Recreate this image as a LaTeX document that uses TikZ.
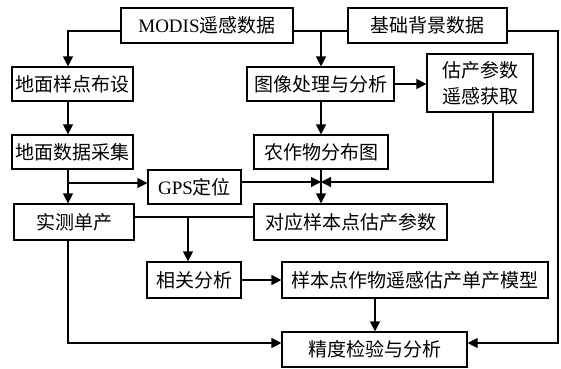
\documentclass[tikz,border=0pt]{standalone}
\usepackage{fontspec}
\setmainfont{Liberation Serif}
\newfontfamily\cjk{Noto Sans CJK SC}
\usetikzlibrary{arrows.meta}
\begin{document}
\begin{tikzpicture}[x=1pt,y=-1pt,
  box/.style={draw,line width=1.2pt,inner sep=0pt,align=center,
    font=\fontsize{19}{24}\selectfont},
  ln/.style={line width=1.2pt},
  arr/.style={line width=1.2pt,-{Triangle[length=10pt,width=10pt]}}]
\useasboundingbox (0,0) rectangle (561,368);
\node[box,minimum width=172pt,minimum height=35pt] (modis) at (207,25.5) {MODIS{\cjk 遥感数据}};
\node[box,minimum width=159pt,minimum height=35pt] (jichu) at (427.5,25.5) {\cjk 基础背景数据};
\node[box,minimum width=121pt,minimum height=34pt] (yangdian) at (72.5,84) {\cjk 地面样点布设};
\node[box,minimum width=147pt,minimum height=34pt] (tuxiang) at (320.5,84) {\cjk 图像处理与分析};
\node[box,minimum width=106pt,minimum height=58pt,font=\fontsize{19}{26}\selectfont] (guchan) at (480,83) {\cjk 估产参数\\\cjk 遥感获取};
\node[box,minimum width=121pt,minimum height=34pt] (caiji) at (72.5,152) {\cjk 地面数据采集};
\node[box,minimum width=134pt,minimum height=34pt] (nongzuo) at (321,152) {\cjk 农作物分布图};
\node[box,minimum width=93pt,minimum height=34pt] (gps) at (194.5,187) {GPS{\cjk 定位}};
\node[box,minimum width=120pt,minimum height=36pt] (shice) at (74,222) {\cjk 实测单产};
\node[box,minimum width=193pt,minimum height=36pt] (duiying) at (350.5,222) {\cjk 对应样本点估产参数};
\node[box,minimum width=94pt,minimum height=36pt] (xiangguan) at (194,280) {\cjk 相关分析};
\node[box,minimum width=266pt,minimum height=36pt] (moxing) at (415,280) {\cjk 样本点作物遥感估产单产模型};
\node[box,minimum width=185pt,minimum height=35pt] (jingdu) at (374.5,349.5) {\cjk 精度检验与分析};
\coordinate (j1) at (68,31);
\coordinate (j2) at (321,31);
\coordinate (j3) at (68,183);
\coordinate (m) at (321,182);
\coordinate (g) at (493,182);
\coordinate (j4) at (188,217);
\coordinate (j5) at (375,300);
\coordinate (l) at (68,343);
\coordinate (r) at (558,343);
\draw[arr] (modis.west |- j1) -- (j1) -- (yangdian.north -| j1);
\draw[ln] (modis.east |- j2) -- (jichu.west |- j2);
\draw[arr] (j2) -- (tuxiang.north -| j2);
\draw[arr] (yangdian.south -| j1) -- (caiji.north -| j1);
\draw[arr] (tuxiang.east) -- (guchan.west |- tuxiang.east);
\draw[arr] (tuxiang.south -| j2) -- (nongzuo.north -| j2);
\draw[arr] (caiji.south -| j1) -- (shice.north -| j1);
\draw[arr] (j3) -- (gps.west |- j3);
\draw[arr] (gps.east |- m) -- (m);
\draw[arr] (guchan.south -| g) -- (g) -- (m);
\draw[arr] (nongzuo.south -| j2) -- (duiying.north -| j2);
\draw[ln] (shice.east |- j4) -- (duiying.west |- j4);
\draw[arr] (j4) -- (xiangguan.north -| j4);
\draw[arr] (xiangguan) -- (moxing);
\draw[arr] (moxing.south -| j5) -- (jingdu.north -| j5);
\draw[arr] (shice.south -| l) -- (l) -- (jingdu.west |- l);
\draw[arr] (jichu.east |- j2) -| (r) -- (jingdu.east |- r);
\end{tikzpicture}
\end{document}
